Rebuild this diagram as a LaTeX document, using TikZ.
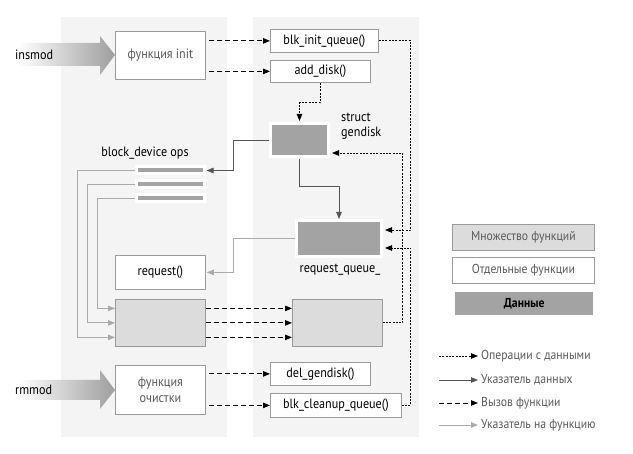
\documentclass[tikz,border=0pt]{standalone}
\usepackage{fontspec}
\setmainfont{PT Sans}[FakeStretch=0.9]
\usetikzlibrary{arrows.meta}
\definecolor{panel}{HTML}{F4F4F4}
\definecolor{bgray}{HTML}{9A9A9A}
\definecolor{datagray}{HTML}{A3A3A3}
\definecolor{multigray}{HTML}{DCDCDC}
\definecolor{dptrcol}{HTML}{555555}
\definecolor{fptrcol}{HTML}{AAAAAA}
\definecolor{txtgray}{HTML}{5A5A5A}
\tikzset{
  every node/.style={font=\fontsize{13.5}{15}\selectfont, inner sep=0pt},
  lgfont/.style={font=\fontsize{13}{15}\selectfont},
  fbox/.style={draw=bgray, fill=white, line width=0.8pt, anchor=north west},
  mbox/.style={draw=bgray, fill=multigray, line width=0.8pt, anchor=north west},
  dbox/.style={draw=white, fill=datagray, line width=3pt},
  tip/.style={-{Triangle[length=7pt,width=5.5pt]}},
  callarr/.style={tip, line width=0.8pt, dash pattern=on 5pt off 3pt},
  dataop/.style={tip, line width=0.8pt, dash pattern=on 2pt off 1.3pt},
  dptr/.style={tip, line width=0.8pt, draw=dptrcol, -{Triangle[length=7pt,width=5.5pt,fill=dptrcol]}},
  fptr/.style={line width=0.8pt, draw=fptrcol, -{Triangle[length=7pt,width=5.5pt,fill=fptrcol]}},
  gtext/.style={text=txtgray}
}
\begin{document}
\begin{tikzpicture}[x=1pt,y=-1pt]
\useasboundingbox (0,0) rectangle (633,454);
% panels
\fill[panel] (61,17) rectangle (227,437);
\fill[panel] (253,17) rectangle (419,437);
% gradient arrows
\shade[left color=white, right color=black!38] (18,43) -- (100,43) -- (100,36) -- (115,55) -- (100,75) -- (100,66) -- (18,66) -- cycle;
\node[anchor=base west] (insmod) at (15,60) {insmod};
\shade[left color=white, right color=black!38] (18,380) -- (100,380) -- (100,370) -- (115,390) -- (100,409) -- (100,400) -- (18,400) -- cycle;
\node[anchor=base west] (rmmod) at (15,395) {rmmod};
% left boxes
\node[fbox, minimum width=90, minimum height=48, gtext] (init) at (115,31) {функция init};
\node[fbox, minimum width=90, minimum height=34] (request) at (115,255) {request()};
\node[mbox, minimum width=90, minimum height=47] (multiL) at (115,299) {};
\node[fbox, minimum width=90, minimum height=49, gtext, align=center] (cleanup) at (115,365) {функция\\[1pt]очистки};
% bars
\node (bdlabel) at (145,153) {block\_device ops};
\node[dbox, minimum width=68, minimum height=7] (bar1) at (170,170.5) {};
\node[dbox, minimum width=68, minimum height=7] (bar2) at (170,184.5) {};
\node[dbox, minimum width=68, minimum height=7] (bar3) at (170,198.5) {};
% right boxes
\node[fbox, minimum width=108, minimum height=23] (blkinit) at (270,29) {blk\_init\_queue()};
\node[fbox, minimum width=100, minimum height=22] (adddisk) at (270,60) {add\_disk()};
\node[dbox, minimum width=58, minimum height=33] (gendisk) at (299.5,140) {};
\node[anchor=north west, align=left] (gdlabel) at (341,113) {struct\\gendisk};
\node[dbox, minimum width=85, minimum height=36] (rq) at (339,238.5) {};
\node (rqlabel) at (340,270) {request\_queue\_};
\node[mbox, minimum width=90, minimum height=47] (multiR) at (292,299) {};
\node[fbox, minimum width=100, minimum height=23] (delgd) at (270,362) {del\_gendisk()};
\node[fbox, minimum width=131, minimum height=24] (blkclean) at (270,393) {blk\_cleanup\_queue()};
% calls
\draw[callarr, shorten <=3pt] (init.east |- blkinit.west) -- (blkinit.west);
\draw[callarr, shorten <=3pt] (init.east |- adddisk.west) -- (adddisk.west);
\draw[callarr, shorten <=3pt] (cleanup.east |- delgd.west) -- (delgd.west);
\draw[callarr, shorten <=3pt] (cleanup.east |- blkclean.west) -- (blkclean.west);
\draw[callarr] ([yshift=14.5pt]multiL.east) -- ([yshift=14.5pt]multiR.west);
\draw[callarr] (multiL.east) -- (multiR.west);
\draw[callarr] ([yshift=-14.5pt]multiL.east) -- ([yshift=-14.5pt]multiR.west);
% data operations
\draw[dataop, shorten >=1pt] (adddisk.south) -- ++(0,20) -| (gendisk.north);
\draw[dataop, shorten >=2pt] (multiR.east) -- ++(20,0) |- ([yshift=-13pt]gendisk.east);
\draw[dataop, shorten >=2pt] (blkinit.east) -- ++(32,0) |- ([yshift=8.5pt]rq.east);
\draw[dataop, shorten >=2pt] (blkclean.east) -- ++(9,0) |- ([yshift=-9.5pt]rq.east);
% data pointers
\draw[dptr, shorten >=1pt] (gendisk.west) -- ++(-35.5,0) |- (bar1.east);
\draw[dptr, shorten <=1.5pt] (gendisk.south) -- ++(0,28) -| (rq.north);
% function pointers
\draw[fptr, shorten >=1pt] (rq.west) -- ++(-61.5,0) |- (request.east);
\draw[fptr] (bar1.west) -- ++(-57.5,0) |- ([yshift=-14.5pt]multiL.west);
\draw[fptr] (bar2.west) -- ++(-47.5,0) |- (multiL.west);
\draw[fptr] (bar3.west) -- ++(-37.5,0) |- ([yshift=14.5pt]multiL.west);
% legend
\node[mbox, minimum width=142, minimum height=26, gtext, lgfont] (lgmulti) at (452,224) {Множество функций};
\node[fbox, minimum width=142, minimum height=26, gtext, lgfont] (lgsingle) at (452,257) {Отдельные функции};
\node[fill=datagray, anchor=north west, minimum width=138, minimum height=23, font=\fontsize{13}{15}\selectfont\bfseries] (lgdata) at (455,292) {Данные};
\coordinate (l1s) at (439,356);
\coordinate (l2s) at (439,380);
\coordinate (l3s) at (439,403);
\coordinate (l4s) at (439,425);
\node[anchor=west, gtext, lgfont] (l1) at (481,356) {Операции с данными};
\node[anchor=west, gtext, lgfont] (l2) at (481,380) {Указатель данных};
\node[anchor=west, gtext, lgfont] (l3) at (481,403) {Вызов функции};
\node[anchor=west, gtext, lgfont] (l4) at (481,425) {Указатель на функцию};
\draw[dataop] (l1s) -- ([xshift=-3pt]l1.west);
\draw[dptr] (l2s) -- ([xshift=-3pt]l2.west);
\draw[callarr] (l3s) -- ([xshift=-3pt]l3.west);
\draw[fptr] (l4s) -- ([xshift=-3pt]l4.west);
\end{tikzpicture}
\end{document}
